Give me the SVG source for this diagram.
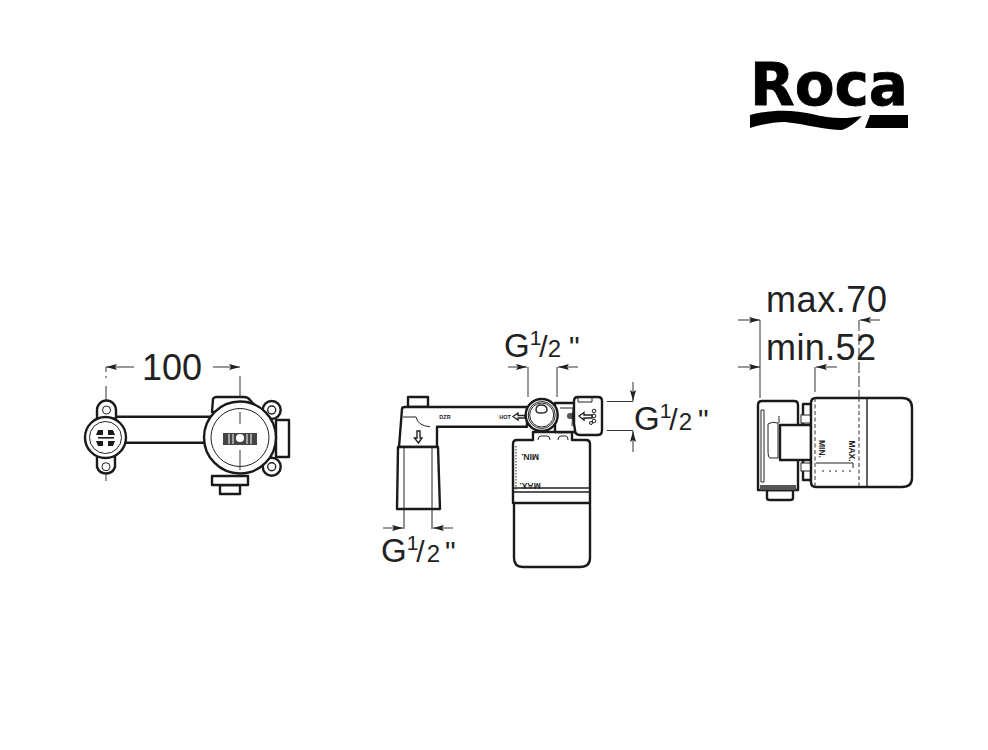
<svg xmlns="http://www.w3.org/2000/svg" width="988" height="750" viewBox="0 0 988 750">
<style>
.o{fill:#fff;stroke:#1a1a1a;stroke-width:2.4;stroke-linejoin:round}
.t{fill:none;stroke:#222;stroke-width:1}
.m{fill:none;stroke:#222;stroke-width:1.4}
.d{fill:none;stroke:#333;stroke-width:1}
.da{fill:none;stroke:#333;stroke-width:1;stroke-dasharray:4 2.5}
.f{fill:#1a1a1a}
.g{font-family:"Liberation Sans",Arial,sans-serif;fill:#222}
.big{font-size:36px}
.gg{font-size:33px}
.s{font-size:21px}
.n{font-size:24px}
.sl{font-size:30px}
.tiny{font-family:"Liberation Sans",Arial,sans-serif;font-weight:700;font-size:5.5px;fill:#222}
.min{font-family:"Liberation Sans",Arial,sans-serif;font-weight:700;font-size:8.5px;fill:#222}
</style>
<defs>
<marker id="a" markerWidth="12" markerHeight="8" refX="11" refY="3" orient="auto-start-reverse" markerUnits="userSpaceOnUse"><path d="M0,0 L11,3 L0,6 L2,3Z" fill="#222"/></marker>
</defs>

<g id="logo">
<text x="750" y="105" font-family="'DejaVu Sans',sans-serif" font-weight="700" font-size="58" fill="#000" stroke="#000" stroke-width="0.8" textLength="158" lengthAdjust="spacingAndGlyphs">Roca</text>
<path d="M750,115 C772,109 795,110 812,114 C830,119 846,119 862,116 C856,122 849,128 842,130 C825,130 805,124 785,122 C772,122 760,125 750,128Z" fill="#000"/>
<path d="M870,115 L908,115 L908,128 L865,128Z" fill="#000"/>
</g>

<g id="view-front">
<path class="o" d="M112,416.7H212V442.7H112Z"/>
<path class="o" d="M97,419V410A9.5,9.5 0 0 1 116,410V419Z"/>
<path class="o" d="M97,456V467A9.5,9.5 0 0 0 115,467V456Z"/>
<circle class="t" cx="106.5" cy="410" r="4"/>
<circle class="t" cx="106" cy="466.7" r="4"/>
<circle class="o" cx="105.5" cy="437.5" r="20.5" stroke-width="2.6"/>
<circle class="t" cx="105.5" cy="437.5" r="16"/>
<path class="f" d="M98,430h5v5h-7zM108,430h5l2,5h-7zM96,441h7v5h-5zM108,441h7l-2,5h-5z"/>
<rect class="f" x="98" y="437" width="16" height="1.6"/>
<circle class="o" cx="271.7" cy="410" r="9"/>
<circle class="o" cx="271.7" cy="466.7" r="9"/>
<circle class="m" cx="271.7" cy="410" r="4"/>
<circle class="m" cx="271.7" cy="466.7" r="4"/>
<path class="o" d="M276,420H289V457H276Z"/>
<path class="o" d="M212,412L213,399Q214,397 217,397H244Q248,397 250,400L260,412Z"/>
<path class="o" d="M220,485H240V494H220Z"/>
<path class="o" d="M212,476H248V485H212Z"/>
<circle class="o" cx="240" cy="437.5" r="36"/>
<circle class="t" cx="240" cy="437.5" r="29"/>
<rect x="223" y="433" width="34" height="12" fill="#444"/>
<circle cx="240" cy="438" r="4" fill="#fff"/>
<path d="M229,434v10M233,434v10M247,434v10M251,434v10" stroke="#fff" stroke-width="1" fill="none"/>
</g>

<g id="view-side">
<path class="o" d="M408,407V397H428V407Z"/>
<path class="o" d="M402,409Q402,407 405,407H527V426.7H437V447H399L402,409Z"/>
<path class="o" d="M398,447H438L440,509H397Z"/>
<path class="t" d="M404,447V529M432,447V529"/>
<path class="t" d="M403,417H416Q418,426 430,426.7"/>
<text class="tiny" x="445" y="418.5" text-anchor="middle">DZR</text>
<text class="tiny" x="505" y="418.5" text-anchor="middle">HOT</text>
<path class="m" d="M513,416.5L518,413V415.5H525V418H518V420Z"/>
<path class="m" d="M417,431V438H414.5L418.5,443L422,438H420V431Z"/>
<path class="o" d="M513,444Q513,440 517,440H533V432H572V440H586Q590,440 590,444V558Q590,567 580,567H523Q514,567 514,558V503L513,503Z"/>
<path class="m" d="M514,488H590M514,492H590"/>
<path class="o" d="M513,503H590" stroke-width="1.8"/>
<path class="t" d="M538,440Q538,436 541,436H547Q550,436 550,440M558,440Q558,436 561,436H566Q568,436 568,440"/>
<path class="t" d="M516,446V490" stroke-dasharray="1.5 1.5"/>
<text class="min" transform="translate(530 454) rotate(180)" text-anchor="middle">MIN.</text>
<text class="min" transform="translate(530 483) rotate(180)" text-anchor="middle">MAX.</text>
<path class="o" d="M555,403H576V432H555Z" stroke-width="1.8"/>
<circle class="o" cx="541.7" cy="415" r="16" stroke-width="2.4"/>
<circle class="t" cx="541.7" cy="415" r="13.5"/>
<circle class="t" cx="541.7" cy="415" r="12"/>
<path class="m" d="M536,410Q536,405 541,405Q547,405 547,410Q547,413 541,413Q536,413 536,410Z"/>
<rect x="567" y="413" width="9" height="6" rx="3" fill="#555"/>
<path class="t" d="M560,408H573L572,426"/>
<path class="o" d="M574,401Q574,397 578,397H598Q602,397 602,401V430Q602,435 598,435H580Q575,435 575,430L574,424Z"/>
<path class="t" d="M578,397V402H592V397"/>
<path class="m" d="M579,416L584,412.5V415H592V418H584V420Z"/>
<circle class="t" cx="594" cy="411" r="1.8"/>
<circle class="t" cx="594" cy="416" r="1.8"/>
<circle class="t" cx="594" cy="421" r="1.8"/>
<circle class="t" cx="591" cy="423" r="1.5"/>
</g>

<g id="view-rear">
<path class="o" d="M767,490H793V498Q793,500 790,500H770Q767,500 767,498Z"/>
<path class="o" d="M758,405Q758,401 762,401H794Q798,401 798,405V490H758Z"/>
<rect x="760" y="485" width="36" height="5" fill="#555"/>
<path class="t" d="M761,410H764V482H761Z"/>
<path class="t" d="M768,424Q772,421 778,423V458H770Q768,458 768,450Z"/>
<path class="t" d="M779,416V423"/>
<path class="o" d="M803,404H811V480H803Z" stroke-width="1.4"/>
<rect x="801" y="415" width="10" height="8" fill="#fff" stroke="#222"/>
<rect x="801" y="463" width="10" height="8" fill="#fff" stroke="#222"/>
<path class="o" d="M780,425H811V460H780Z" stroke-width="1.4"/>
<path class="o" d="M811,403Q811,398 816,398H902Q912,398 912,408V478Q912,487 902,487H816Q811,487 811,482Z"/>
<path class="m" d="M867,398V487"/>
<path class="da" d="M815,398V487M859,398V487"/>
<path class="t" d="M816,463H853V468"/>
<path class="t" d="M823,470v2M830,470v2M836,470v2M843,470v2M850,470v2" stroke-width="1.4"/>
<text class="min" transform="translate(819 449) rotate(90)" text-anchor="middle">MIN.</text>
<text class="min" transform="translate(849 451) rotate(90)" text-anchor="middle">MAX.</text>
</g>

<g id="connectors">
<path class="d" d="M106,367H134" marker-start="url(#a)"/>
<path class="d" d="M213,367H240" marker-end="url(#a)"/>
<path class="d" d="M106,367V372M106,376V378M106,386V401M106,474V481M240,376V397M240,412V424M240,450V470"/>
<path class="d" d="M528,367V397M557,367V397"/>
<path class="d" d="M508,367H527" marker-end="url(#a)"/>
<path class="d" d="M578,367H558" marker-end="url(#a)"/>
<path class="d" d="M607,401.5H633M607,430.5H633"/>
<path class="d" d="M633,382V401" marker-end="url(#a)"/>
<path class="d" d="M633,452V431" marker-end="url(#a)"/>
<path class="d" d="M383,528H403" marker-end="url(#a)"/>
<path class="d" d="M453,528H433" marker-end="url(#a)"/>
<path class="d" d="M760,320V398"/>
<path class="d" d="M859,320V398" stroke-dasharray="11 3"/>
<path class="d" d="M815,367V392"/>
<path class="d" d="M738,320H760" marker-end="url(#a)"/>
<path class="d" d="M738,367H760" marker-end="url(#a)"/>
<path class="d" d="M880,320H860" marker-end="url(#a)"/>
<path class="d" d="M837,367H816" marker-end="url(#a)"/>
</g>

<g id="labels">
<text class="g big" x="142" y="380">100</text>
<text class="g big" x="766" y="312" textLength="121">max.70</text>
<text class="g big" x="766" y="360" textLength="110">min.52</text>
<text class="g gg" x="504" y="357">G<tspan class="s" dy="-12">1</tspan><tspan class="sl" dy="12" dx="-2">/</tspan><tspan class="n">2</tspan><tspan class="sl" dx="8">"</tspan></text>
<text class="g gg" x="634" y="430">G<tspan class="s" dy="-12">1</tspan><tspan class="sl" dy="12" dx="-2">/</tspan><tspan class="n" dx="1">2</tspan><tspan class="sl" dx="6">"</tspan></text>
<text class="g gg" x="381" y="562">G<tspan class="s" dy="-12">1</tspan><tspan class="sl" dy="12" dx="-2">/</tspan><tspan class="n" dx="2">2</tspan><tspan class="sl" dx="5">"</tspan></text>
</g>
</svg>
